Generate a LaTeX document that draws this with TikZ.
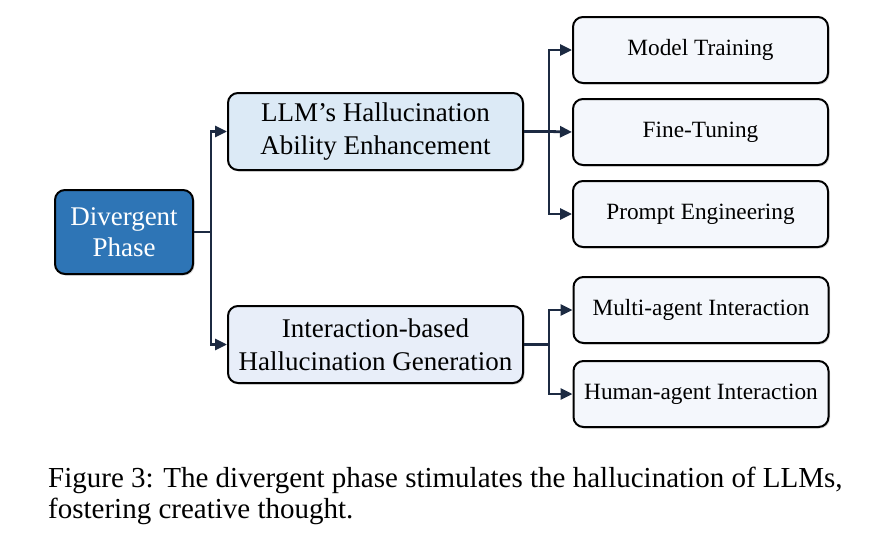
\documentclass[tikz,border=0pt]{standalone}
\usepackage{fontspec}
\setmainfont{Liberation Serif}
\usetikzlibrary{positioning,arrows.meta,shadows}

\definecolor{phaseblue}{RGB}{46,117,182}
\definecolor{enhblue}{RGB}{220,234,246}
\definecolor{genblue}{RGB}{232,238,249}
\definecolor{leafblue}{RGB}{244,247,252}
\definecolor{linkblue}{RGB}{28,42,66}

\begin{document}
\begin{tikzpicture}[x=1pt,y=-1pt]
        \useasboundingbox (0,0) rectangle (887,541);
        \tikzstyle{box} = [draw=black,line width=2pt,rounded corners=10pt,align=center,inner sep=0pt,
          drop shadow={shadow xshift=1.5pt,shadow yshift=-1.5pt,opacity=0.3}]
        \tikzstyle{big} = [box,minimum width=295pt,minimum height=77pt,font=\fontsize{27}{33}\selectfont]
        \tikzstyle{leaf} = [box,fill=leafblue,minimum width=255pt,minimum height=66pt,font=\fontsize{23.3}{28}\selectfont]
        \tikzstyle{link} = [draw=linkblue,line width=2.8pt,-{Triangle[length=12pt,width=11pt]}]
        \node[box,fill=phaseblue,text=white,minimum width=138pt,minimum height=84pt,font=\fontsize{27}{31}\selectfont] (phase) at (124,232) {Divergent\\Phase};
        \node[big,fill=enhblue] (enhance) at (375.5,131.5) {LLM’s Hallucination\\Ability Enhancement};
        \node[big,fill=genblue] (generate) at (375.5,344.5) {Interaction-based\\Hallucination Generation};
        \node[leaf] (train) at (700.5,50) {Model Training};
        \node[leaf,below=14pt of train] (tune) {Fine-Tuning};
        \node[leaf,below=14pt of tune] (prompt) {Prompt Engineering};
        \node[leaf] (multi) at (701,310) {Multi-agent Interaction};
        \node[leaf,below=16pt of multi] (human) {Human-agent Interaction};
        \node[anchor=base west,align=left,inner sep=0pt,font=\fontsize{29}{31}\selectfont] (caption) at (48,518)
          {Figure 3: The divergent phase stimulates the hallucination of LLMs,\\fostering creative thought.};
        \coordinate (fork) at ([xshift=17pt]phase.east);
        \coordinate (forkup) at ([xshift=25pt]enhance.east);
        \coordinate (forkdown) at ([xshift=25pt]generate.east);
        \draw[link] (phase.east) -- (fork) |- (enhance.west);
        \draw[link] (fork) |- (generate.west);
        \draw[link] (enhance.east) -- (forkup) |- (train.west);
        \draw[link] (forkup) -- (tune.west);
        \draw[link] (forkup) |- (prompt.west);
        \draw[link] (generate.east) -- (forkdown) |- (multi.west);
        \draw[link] (forkdown) |- (human.west);
      \end{tikzpicture}
\end{document}
